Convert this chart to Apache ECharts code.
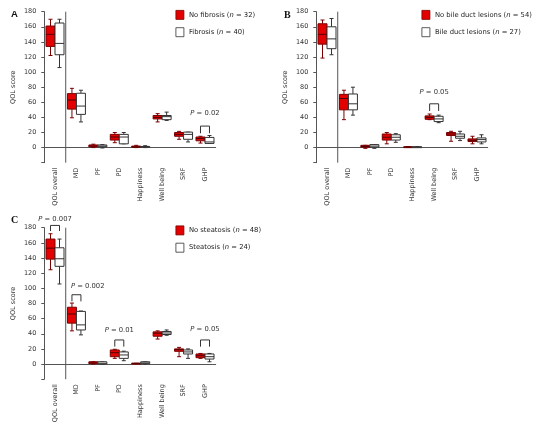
<!DOCTYPE html>
<html><head><meta charset="utf-8">
<script src="https://cdn.jsdelivr.net/npm/echarts@6/dist/echarts.min.js"></script>
<style>html,body{margin:0;padding:0;background:#fff}#c{width:535px;height:429px}</style>
</head><body><div id="c"></div>
<script>
// ---------- data ----------
const categories = ['QOL overall','MD','PF','PD','Happiness','Well being','SRF','GHP'];
const yMin = -20, yMax = 180, yStep = 20;

// each row: [min, Q1, median, Q3, max] per category
const noFibrosis = [[122,134,150,161,170],[39.5,51,63,71.5,78.5],[0,1,2,3.5,4.5],[6.5,10,14,17.5,20],[0,0.5,1,2,3],[34,38,40,42.5,45],[11,15,17.5,20,21.5],[6,9,12,14,15]];
const fibrosis   = [[106,123,138,165,170],[34,44,55,72,76],[-0.5,1,2,3.5,4],[5,5,14,17.5,20],[0,0.5,1,1.5,2.5],[36,37,41,42.5,47],[7.5,11,17.5,20.5,20.5],[5.5,5.5,7.5,13.5,16]];

const noBileDuct = [[118.6,137,150,164,169],[37,50,65,70.5,76],[-1,0.5,1.5,3,3],[5,10,13.7,18,20],[1,1,1,1,1],[37,37.5,40,42,44.5],[8.4,16,18,20,21.6],[5,8,9.7,11.5,15]];
const bileDuct   = [[123,131,144,160,171],[43,50,58,71,80],[-1,0.5,2,4,4],[7,10,13.7,17,18.5],[1,1,1,1,1],[33,34.5,38,41.5,43],[9.3,12.4,15,18,21.6],[5,7.5,10.6,12.8,17]];

const noSteatosis = [[124.5,138.5,153,165,172],[43.8,54,66,75,80.5],[0,0.5,1.5,3,3],[7.5,9.7,15,18.6,19.5],[0.5,0.5,1,1,1],[33,36.7,40.7,42.5,43.8],[9.7,16.8,19,20,22],[7.5,8.4,11,13.3,14]];
const steatosis   = [[105.7,129,139,153.5,165],[38.5,45,51.7,69.5,70],[0,0,1,3,3],[4.4,7.5,12,16,17],[0,0.5,1.5,3,3],[38,39,41,43,45],[7.5,13.3,16,18.6,20],[3,6.6,9.7,13.3,14]];

// significance brackets: [category index, leg bottom, bracket top, label y, p value]
const pA = [[7,19,28.5,46,'0.02']];
const pB = [[5,48.5,58,73,'0.05']];
const pC = [[0,175.6,183,191,'0.007'],[1,82.7,91.5,102.6,'0.002'],[3,23,31.8,45,'0.01'],[7,23,31.8,46,'0.05']];

const legendA = ['No fibrosis (n = 32)','Fibrosis (n = 40)'];
const legendB = ['No bile duct lesions (n = 54)','Bile duct lesions (n = 27)'];
const legendC = ['No steatosis (n = 48)','Steatosis (n = 24)'];

// ---------- styles ----------
const FONT = 'DejaVu Sans';
const RED = '#e30000', RED_STROKE = '#7a0000', RED_MED = '#500000';
const WHITE = '#ffffff', W_STROKE = '#333333';
const AXIS = '#555555';

const panels = [
  {grid:{left:44.3,top:11.7,width:171.4,height:151}, red:noFibrosis, white:fibrosis, p:pA, leg:legendA, legPos:{left:175.5,top:10}},
  {grid:{left:316.3,top:11.7,width:171.4,height:151}, red:noBileDuct, white:bileDuct, p:pB, leg:legendB, legPos:{left:421.5,top:10}},
  {grid:{left:44.3,top:227.7,width:171.4,height:151.5}, red:noSteatosis, white:steatosis, p:pC, leg:legendC, legPos:{left:175.5,top:225.5}}
];

function boxRenderer(side, fill, stroke, med) {
  return function (params, api) {
    const i = api.value(0);
    const band = api.size([1, 0])[0];
    const w = band * 0.42;
    const c = api.coord([i, 0]);
    const x0 = side < 0 ? c[0] - w : c[0];
    const cx = x0 + w / 2;
    const y = k => api.coord([i, api.value(k)])[1];
    const yLo = y(1), yQ1 = y(2), yMd = y(3), yQ3 = y(4), yHi = y(5);
    const cap = 2;
    const ls = {stroke: stroke, lineWidth: 1, fill: null};
    return {type: 'group', children: [
      {type: 'line', shape: {x1: cx, y1: yQ3, x2: cx, y2: yHi}, style: ls},
      {type: 'line', shape: {x1: cx - cap, y1: yHi, x2: cx + cap, y2: yHi}, style: ls},
      {type: 'line', shape: {x1: cx, y1: yQ1, x2: cx, y2: yLo}, style: ls},
      {type: 'line', shape: {x1: cx - cap, y1: yLo, x2: cx + cap, y2: yLo}, style: ls},
      {type: 'rect', shape: {x: x0, y: yQ3, width: w, height: Math.max(yQ1 - yQ3, 0.8)}, style: {fill: fill, stroke: stroke, lineWidth: 1}},
      {type: 'line', shape: {x1: x0, y1: yMd, x2: x0 + w, y2: yMd}, style: {stroke: med, lineWidth: 1}}
    ]};
  };
}

function bracketRenderer(rows) {
  return function (params, api) {
    const r = rows[params.dataIndex];
    const i = api.value(0);
    const band = api.size([1, 0])[0];
    const w = band * 0.42;
    const c = api.coord([i, 0])[0];
    const xl = c - w / 2, xr = c + w / 2;
    const yLeg = api.coord([i, api.value(1)])[1];
    const yTop = api.coord([i, api.value(2)])[1];
    const yTxt = api.coord([i, api.value(3)])[1];
    const ls = {stroke: '#333', lineWidth: 1, fill: null};
    const leftAlign = i === 1;
    return {type: 'group', children: [
      {type: 'polyline', shape: {points: [[xl, yLeg], [xl, yTop], [xr, yTop], [xr, yLeg]]}, style: ls},
      {type: 'text', style: {
        text: '{i|P} = ' + r[4], x: leftAlign ? xl - 1 : c, y: yTxt,
        align: leftAlign ? 'left' : 'center', verticalAlign: 'middle',
        fill: '#333', font: '6.8px "' + FONT + '"',
        rich: {i: {fontStyle: 'italic', fontSize: 6.8, fontFamily: FONT, fill: '#333'}}
      }}
    ]};
  };
}

function sepRenderer(params, api) {
  const x = (api.coord([0, 0])[0] + api.coord([1, 0])[0]) / 2;
  const y1 = api.coord([0, yMin])[1], y2 = api.coord([0, yMax])[1];
  return {type: 'line', shape: {x1: x, y1: y1, x2: x, y2: y2}, style: {stroke: AXIS, lineWidth: 1}};
}

const grid = [], xAxis = [], yAxis = [], series = [], legend = [];
panels.forEach((p, k) => {
  grid.push(Object.assign({containLabel: false}, p.grid));
  xAxis.push({
    type: 'category', gridIndex: k, data: categories, boundaryGap: true,
    axisLine: {lineStyle: {color: AXIS, width: 1}},
    axisTick: {alignWithLabel: true, length: 3, lineStyle: {color: AXIS}},
    axisLabel: {rotate: 90, interval: 0, margin: 5, fontFamily: FONT, fontSize: 6.5, color: '#333'},
    splitLine: {show: false}
  });
  yAxis.push({
    type: 'value', gridIndex: k, min: yMin, max: yMax, interval: yStep,
    name: 'QOL score', nameLocation: 'middle', nameRotate: 90, nameGap: 27,
    nameTextStyle: {fontFamily: FONT, fontSize: 6.5, color: '#333'},
    axisLine: {show: true, lineStyle: {color: AXIS, width: 1}},
    axisTick: {show: true, length: 3, lineStyle: {color: AXIS}},
    axisLabel: {margin: 8, fontFamily: FONT, fontSize: 6.5, color: '#333', formatter: v => v < 0 ? '' : String(v)},
    splitLine: {show: false}
  });
  const toRows = arr => arr.map((r, i) => [i].concat(r));
  series.push({
    type: 'custom', name: p.leg[0], xAxisIndex: k, yAxisIndex: k,
    itemStyle: {color: RED, borderColor: RED_STROKE},
    encode: {x: 0, y: [1, 2, 3, 4, 5]}, data: toRows(p.red),
    renderItem: boxRenderer(-1, RED, RED_STROKE, RED_MED), silent: true
  });
  series.push({
    type: 'custom', name: p.leg[1], xAxisIndex: k, yAxisIndex: k,
    itemStyle: {color: WHITE, borderColor: W_STROKE},
    encode: {x: 0, y: [1, 2, 3, 4, 5]}, data: toRows(p.white),
    renderItem: boxRenderer(1, WHITE, W_STROKE, W_STROKE), silent: true
  });
  series.push({
    type: 'custom', name: 'sep' + k, xAxisIndex: k, yAxisIndex: k,
    encode: {x: 0, y: 1}, data: [[0, 0]], renderItem: sepRenderer, silent: true, clip: false
  });
  series.push({
    type: 'custom', name: 'p' + k, xAxisIndex: k, yAxisIndex: k,
    encode: {x: 0, y: [1, 2, 3]}, data: p.p.map(r => r.slice(0, 4)),
    renderItem: bracketRenderer(p.p), silent: true, clip: false
  });
  legend.push(Object.assign({
    orient: 'vertical', itemWidth: 8, itemHeight: 9, itemGap: 7.5, padding: 0,
    selectedMode: false, icon: 'rect',
    textStyle: {fontFamily: FONT, fontSize: 6.8, color: '#222', rich: {i: {fontStyle: 'italic', fontFamily: FONT, fontSize: 6.8, color: '#222'}}},
    formatter: name => name.replace('(n', '({i|n}'),
    data: [
      {name: p.leg[0], itemStyle: {color: RED, borderColor: RED_STROKE, borderWidth: 0.8}},
      {name: p.leg[1], itemStyle: {color: WHITE, borderColor: W_STROKE, borderWidth: 0.8}}
    ]
  }, p.legPos));
});

const chart = echarts.init(document.getElementById('c'), null, {renderer: 'canvas'});
chart.setOption({
  animation: false,
  backgroundColor: '#fff',
  grid, xAxis, yAxis, series, legend,
  graphic: [
    {type: 'text', left: 11, top: 9, style: {text: 'A', font: 'bold 9.5px "Liberation Sans"', fill: '#111'}},
    {type: 'text', left: 284, top: 10, style: {text: 'B', font: 'bold 10px "Liberation Serif"', fill: '#111'}},
    {type: 'text', left: 11, top: 215, style: {text: 'C', font: 'bold 10px "Liberation Serif"', fill: '#111'}}
  ]
});
</script>
</body></html>
